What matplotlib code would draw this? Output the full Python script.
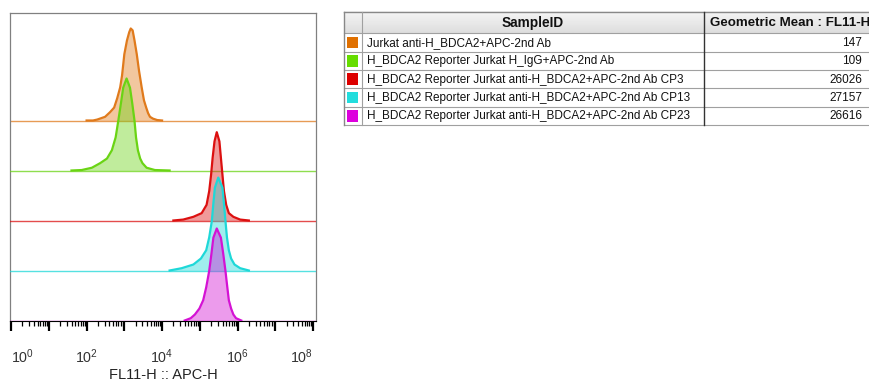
"""FlowJo style offset histogram overlay with sample table."""

import matplotlib
matplotlib.use("Agg")
import matplotlib.pyplot as plt
import numpy as np
from matplotlib.ticker import FixedLocator, LogLocator, NullFormatter

plt.rcParams["font.family"] = ["Liberation Sans", "DejaVu Sans"]
plt.rcParams["mathtext.fontset"] = "custom"
plt.rcParams["mathtext.rm"] = "Liberation Sans"

# ---- data (x in log10 decades of FL11-H, y in % of mode) ----
sample_ids = [
    "Jurkat anti-H_BDCA2+APC-2nd Ab",
    "H_BDCA2 Reporter Jurkat H_IgG+APC-2nd Ab",
    "H_BDCA2 Reporter Jurkat anti-H_BDCA2+APC-2nd Ab CP3",
    "H_BDCA2 Reporter Jurkat anti-H_BDCA2+APC-2nd Ab CP13",
    "H_BDCA2 Reporter Jurkat anti-H_BDCA2+APC-2nd Ab CP23",
]
geo_means = ["147", "109", "26026", "27157", "26616"]
line_colors = ["#e07a1c", "#6ad414", "#dc1010", "#1ed8d8", "#d412d4"]
swatch_colors = ["#e07000", "#66dd00", "#dd0000", "#22dddd", "#dd00dd"]

x_jurkat = [2.0, 2.17, 2.28, 2.49, 2.62, 2.73, 2.81, 2.89, 2.94, 3.00, 3.07, 3.13,
            3.17, 3.22, 3.27, 3.33, 3.39, 3.46, 3.52, 3.58, 3.63, 3.68, 3.76, 3.87, 4.0]
y_jurkat = [0, 0, 1, 4, 9, 14, 24, 36, 49, 72, 87, 96,
            100, 98, 87, 72, 54, 36, 22, 14, 8, 4, 2, 0.5, 0]

x_igg = [1.6, 1.87, 2.14, 2.36, 2.54, 2.67, 2.77, 2.84, 2.91, 2.97, 3.06,
         3.15, 3.21, 3.27, 3.31, 3.36, 3.42, 3.48, 3.59, 3.81, 4.2]
y_igg = [0, 0.5, 3, 8, 13, 22, 36, 54, 73, 90, 100,
         90, 73, 54, 36, 22, 13, 8, 3, 0.5, 0]

x_cp3 = [4.3, 4.56, 4.83, 5.05, 5.18, 5.25, 5.30, 5.34, 5.39, 5.45,
         5.52, 5.56, 5.60, 5.64, 5.70, 5.77, 5.89, 6.07, 6.3]
y_cp3 = [0, 1, 4, 8, 17, 32, 50, 68, 86, 96,
         86, 68, 50, 32, 17, 8, 4, 1, 0]

x_cp13 = [4.2, 4.52, 4.83, 5.03, 5.17, 5.25, 5.32, 5.36, 5.40, 5.49,
          5.60, 5.64, 5.68, 5.72, 5.77, 5.83, 5.92, 6.07, 6.3]
y_cp13 = [0, 2.5, 6.5, 13, 22, 36, 54, 73, 90, 101,
          90, 73, 54, 36, 22, 13, 6.5, 2.5, 0]

x_cp23 = [4.6, 4.76, 4.87, 4.99, 5.09, 5.17, 5.25, 5.31, 5.36, 5.45,
          5.56, 5.62, 5.68, 5.73, 5.77, 5.83, 5.89, 5.96, 6.1]
y_cp23 = [0, 2.5, 6.5, 13, 22, 36, 54, 73, 90, 100,
          90, 73, 54, 36, 22, 13, 6.5, 2.5, 0]

curves_x = [x_jurkat, x_igg, x_cp3, x_cp13, x_cp23]
curves_y = [y_jurkat, y_igg, y_cp3, y_cp13, y_cp23]

# ---- figure ----
W, H = 870, 383
fig = plt.figure(figsize=(W / 100, H / 100), dpi=100)

ax_l, ax_r, ax_t, ax_b = 10, 316, 13, 320.5
ax = fig.add_axes([ax_l / W, 1 - ax_b / H, (ax_r - ax_l) / W, (ax_b - ax_t) / H])

lane = 1.0
mode_height = 1.84  # 100 % of mode in lane units
n = len(sample_ids)
for i, (xs, ys, col) in enumerate(zip(curves_x, curves_y, line_colors)):
    base = (n - 1 - i) * lane
    xv = 10 ** np.asarray(xs)
    yv = base + np.asarray(ys) / 100.0 * mode_height
    ax.axhline(base, color=col, lw=1.0, alpha=0.75, zorder=2 + i)
    ax.fill_between(xv, base, yv, color=col, alpha=0.42, lw=0, zorder=2 + i)
    ax.plot(xv, yv, color=col, lw=1.6, zorder=2 + i, solid_joinstyle="round")

ax.set_xscale("log")
ax.set_xlim(10 ** -0.03, 10 ** 8.08)
ax.set_ylim(0, (ax_b - ax_t) / 50.0)
ax.set_yticks([])

majors = [10.0 ** k for k in range(9)]
ax.xaxis.set_major_locator(FixedLocator(majors))
ax.set_xticklabels([r"$\mathregular{10^{%d}}$" % k if k % 2 == 0 else "" for k in range(9)])
ax.xaxis.set_minor_locator(LogLocator(base=10, subs=np.arange(2, 10), numticks=20))
ax.xaxis.set_minor_formatter(NullFormatter())
ax.tick_params(axis="x", which="major", direction="out", length=7.5, width=1.6,
               color="black", pad=12, labelsize=10.3, labelcolor="#333333")
ax.tick_params(axis="x", which="minor", direction="out", length=3.5, width=0.9, color="black")
labels = ax.get_xticklabels()
labels[0].set_horizontalalignment("left")
labels[-1].set_horizontalalignment("right")

for side in ("left", "top", "right"):
    ax.spines[side].set_color("#808080")
    ax.spines[side].set_linewidth(0.9)
ax.spines["bottom"].set_color("black")
ax.spines["bottom"].set_linewidth(0.8)

ax.set_xlabel("FL11-H :: APC-H", fontsize=10.5, color="#222222", labelpad=1.5)

# ---- sample table drawn in pixel coordinates ----
tab = fig.add_axes([0, 0, 1, 1], zorder=-1)
tab.set_xlim(0, W)
tab.set_ylim(H, 0)
tab.axis("off")

t_left, t_swatch, t_id, t_right = 344, 362, 704, 900
t_top, t_head = 11.7, 33.3
row_h = 18.35
rows_y = [t_head + k * row_h for k in range(n + 1)]

grad = np.linspace(0.96, 0.87, 20).reshape(-1, 1)
tab.imshow(grad, cmap="gray", vmin=0, vmax=1, aspect="auto",
           extent=[t_left, t_right, t_head, t_top], zorder=0)

grid = "#a0a0a0"
tab.plot([t_left, t_right], [t_top, t_top], color="#888888", lw=1)
for yy in rows_y:
    tab.plot([t_left, t_right], [yy, yy], color=grid, lw=0.8)
tab.plot([t_left, t_left], [t_top, rows_y[-1]], color="#888888", lw=1)
tab.plot([t_swatch, t_swatch], [t_top, rows_y[-1]], color=grid, lw=0.8)
tab.plot([t_id, t_id], [t_top, rows_y[-1]], color="#333333", lw=1)

tab.text((t_swatch + t_id) / 2, (t_top + t_head) / 2 + 0.5, "SampleID", ha="center",
         va="center", fontsize=9.8, fontweight="bold", color="#111111")
tab.text(t_id + 6, (t_top + t_head) / 2 + 0.5, "Geometric Mean : FL11-H", ha="left",
         va="center", fontsize=9.6, fontweight="bold", color="#111111")

for k, (sid, gm, sw) in enumerate(zip(sample_ids, geo_means, swatch_colors)):
    yc = (rows_y[k] + rows_y[k + 1]) / 2
    tab.add_patch(plt.Rectangle((347, yc - 5.8), 11.5, 11.5, color=sw, lw=0))
    tab.text(367, yc + 0.5, sid, ha="left", va="center", fontsize=8.5, color="#111111")
    tab.text(862, yc + 0.5, gm, ha="right", va="center", fontsize=8.5, color="#111111")

fig.savefig("out.png", dpi=100)
